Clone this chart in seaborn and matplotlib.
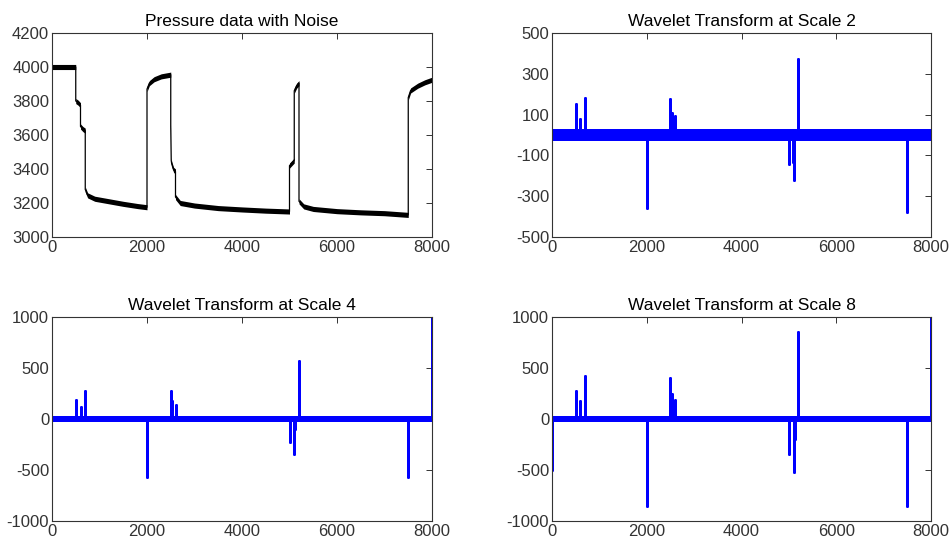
import numpy as np
import pandas as pd
import matplotlib
matplotlib.use("Agg")
import matplotlib.pyplot as plt
import seaborn as sns

# ---------------- data ----------------
press_x = [0, 500, 500, 550, 600, 600, 650, 700, 700, 750, 900, 1200, 1500, 1800, 2000,
           2000, 2050, 2150, 2300, 2500, 2500, 2510, 2520, 2560, 2600, 2600, 2700, 3000,
           3500, 4000, 4500, 5000, 5000, 5050, 5100, 5100, 5150, 5200, 5200, 5300, 5500,
           6000, 6500, 7000, 7500, 7500, 7550, 7700, 7850, 8000]
press_y = [4000, 4000, 3800, 3790, 3775, 3650, 3635, 3625, 3280, 3245, 3225, 3210, 3195, 3182, 3175,
           3870, 3905, 3928, 3945, 3955, 3650, 3450, 3430, 3395, 3385, 3235, 3200, 3185,
           3170, 3162, 3155, 3150, 3420, 3435, 3450, 3860, 3890, 3905, 3210, 3180, 3165,
           3152, 3145, 3140, 3130, 3820, 3862, 3890, 3910, 3925]
press_noise = 15

s2_x = [500, 600, 700, 2000, 2500, 2530, 2600, 5000, 5080, 5100, 5200, 7500]
s2_v = [150, 80, 180, -360, 175, 110, 95, -140, -130, -220, 375, -375]
s2_noise = 27

s4_x = [500, 600, 700, 2000, 2010, 2500, 2530, 2600, 5000, 5100, 5120, 5200, 7500, 8000]
s4_v = [185, 120, 270, -570, -300, 270, 180, 140, -230, -340, -100, 570, -570, 1000]
s4_noise = 30

s8_x = [0, 500, 510, 600, 700, 2000, 2010, 2500, 2530, 2600, 5000, 5100, 5120, 5200, 7500, 8000]
s8_v = [-500, 270, 110, 180, 420, -850, -430, 400, 250, 185, -340, -520, -200, 850, -850, 1000]
s8_noise = 30

titles = ["Pressure data with Noise", "Wavelet Transform at Scale 2",
          "Wavelet Transform at Scale 4", "Wavelet Transform at Scale 8"]

# ---------------- style ----------------
sns.set_theme(style="white")
plt.rcParams["font.family"] = ["Liberation Sans", "DejaVu Sans"]
plt.rcParams["axes.edgecolor"] = "#333333"
plt.rcParams["axes.linewidth"] = 0.8
plt.rcParams["axes.unicode_minus"] = False

fig = plt.figure(figsize=(9.51, 5.39), dpi=100)
fig.patch.set_facecolor("white")

W, H = 951, 539
def box(l, r, t, b):
    return [l / W, 1 - b / H, (r - l) / W, (b - t) / H]

ax1 = fig.add_axes(box(52, 432, 33, 237))
ax2 = fig.add_axes(box(552, 931, 33, 237))
ax3 = fig.add_axes(box(52, 432, 317, 521))
ax4 = fig.add_axes(box(552, 931, 317, 521))

# Pressure
pdf = pd.DataFrame({"x": press_x, "y": press_y})
ax1.fill_between(pdf["x"], pdf["y"] - press_noise, pdf["y"] + press_noise,
                 color="black", linewidth=0)
sns.lineplot(data=pdf, x="x", y="y", sort=False, estimator=None, color="black",
             linewidth=0.9, ax=ax1)
ax1.set_ylim(3000, 4200)
ax1.set_yticks([3000, 3200, 3400, 3600, 3800, 4000, 4200])

def spikes(ax, xs, vs, noise, ylim, yticks):
    xx, yy = [0], [0]
    for x, v in zip(xs, vs):
        xx += [x, x, x]
        yy += [0, v, 0]
    xx.append(8000); yy.append(0)
    df = pd.DataFrame({"x": xx, "y": yy})
    ax.fill_between([0, 8000], [-noise, -noise], [noise, noise], color="blue", linewidth=0)
    sns.lineplot(data=df, x="x", y="y", sort=False, estimator=None, color="blue",
                 linewidth=2.0, ax=ax)
    ax.set_ylim(*ylim)
    ax.set_yticks(yticks)

spikes(ax2, s2_x, s2_v, s2_noise, (-500, 500), [-500, -300, -100, 100, 300, 500])
spikes(ax3, s4_x, s4_v, s4_noise, (-1000, 1000), [-1000, -500, 0, 500, 1000])
spikes(ax4, s8_x, s8_v, s8_noise, (-1000, 1000), [-1000, -500, 0, 500, 1000])

for ax, t in zip([ax1, ax2, ax3, ax4], titles):
    ax.set_xlim(0, 8000)
    ax.set_xticks([0, 2000, 4000, 6000, 8000])
    ax.set_xlabel("")
    ax.set_ylabel("")
    ax.set_title(t, fontsize=12.5, color="black", pad=5)
    ax.tick_params(direction="in", top=True, right=True, length=4, width=0.7,
                   labelsize=12, colors="#333333", labelcolor="#333333", pad=2)
    for sp in ax.spines.values():
        sp.set_visible(True)
        sp.set_color("#333333")

fig.savefig("out.png", dpi=100, facecolor="white")
